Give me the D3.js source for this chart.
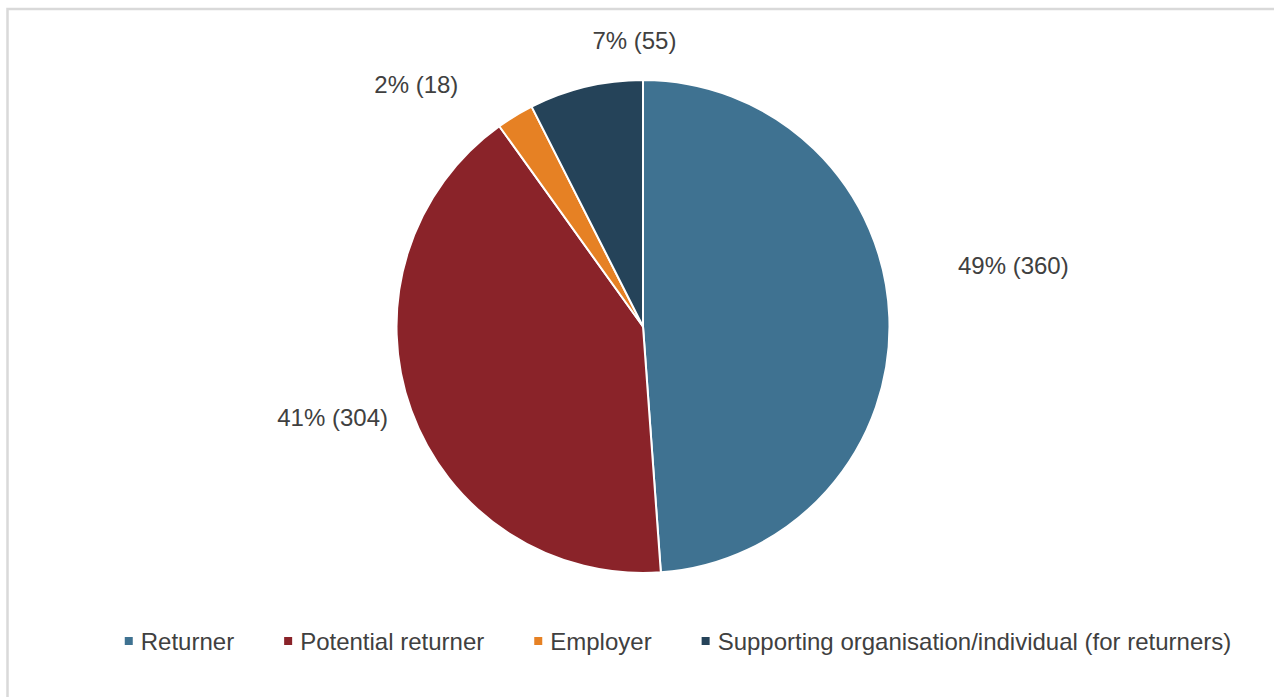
<!DOCTYPE html>
<html>
<head>
<meta charset="utf-8">
<script src="https://cdn.jsdelivr.net/npm/d3@7"></script>
<style>
  html, body { margin: 0; padding: 0; background: #fff; }
  svg { display: block; font-family: "Liberation Sans", Arial, sans-serif; }
</style>
</head>
<body>
<svg id="chart" width="1274" height="697"></svg>
<script>
// Respondent groups and their counts
const categories = ["Returner", "Potential returner", "Employer", "Supporting organisation/individual (for returners)"];
const counts = [360, 304, 18, 55];
const colours = ["#3f7291", "#8a2329", "#e68124", "#254359"];

const width = 1274, height = 697;
const cx = 643, cy = 326.5, radius = 246.5;
const textColour = "#404040";

// Small nudges that move each data label off its slice to where it sits best
const labelNudge = [[84, -51], [-41, -7], [-78, 3], [58, -7]];

const svg = d3.select("#chart");

// Chart frame
svg.append("rect")
  .attr("x", 7.5).attr("y", 9)
  .attr("width", width + 20).attr("height", height + 20)
  .attr("fill", "#fff")
  .attr("stroke", "#d9d9d9")
  .attr("stroke-width", 2.5);

const data = categories.map((c, i) => ({ name: c, value: counts[i], colour: colours[i] }));
const total = d3.sum(counts);

const pie = d3.pie().value(d => d.value).sort(null);
const arcs = pie(data);
const arc = d3.arc().innerRadius(0).outerRadius(radius);
const labelArc = d3.arc().innerRadius(radius + 40).outerRadius(radius + 40);

const g = svg.append("g").attr("transform", `translate(${cx},${cy})`);

g.selectAll("path.slice")
  .data(arcs)
  .join("path")
  .attr("class", "slice")
  .attr("d", arc)
  .attr("fill", d => d.data.colour)
  .attr("stroke", "#fff")
  .attr("stroke-width", 2)
  .attr("stroke-linejoin", "round");

g.selectAll("text.label")
  .data(arcs)
  .join("text")
  .attr("class", "label")
  .attr("x", (d, i) => labelArc.centroid(d)[0] + labelNudge[i][0])
  .attr("y", (d, i) => labelArc.centroid(d)[1] + labelNudge[i][1])
  .attr("text-anchor", "middle")
  .attr("dominant-baseline", "central")
  .attr("font-size", 24)
  .attr("fill", textColour)
  .text(d => `${Math.round(d.data.value / total * 100)}% (${d.data.value})`);

// Legend laid out in a single centred row
const legend = svg.append("g");
const items = legend.selectAll("g.item")
  .data(data)
  .join("g")
  .attr("class", "item");

items.append("rect")
  .attr("width", 8).attr("height", 8)
  .attr("y", -4)
  .attr("fill", d => d.colour);

items.append("text")
  .attr("x", 16)
  .attr("dominant-baseline", "central")
  .attr("font-size", 24)
  .attr("fill", textColour)
  .text(d => d.name);

let xPos = 0;
const gap = 50;
items.each(function () {
  const w = this.getBBox().width;
  d3.select(this).attr("transform", `translate(${xPos},0)`);
  xPos += w + gap;
});
const legendWidth = xPos - gap;
legend.attr("transform", `translate(${678 - legendWidth / 2},641)`);
</script>
</body>
</html>
